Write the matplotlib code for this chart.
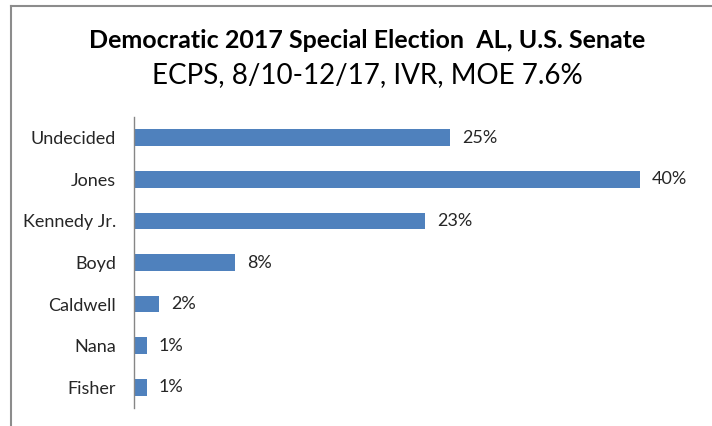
import matplotlib.pyplot as plt
from matplotlib.lines import Line2D

candidates = ["Undecided", "Jones", "Kennedy Jr.", "Boyd", "Caldwell", "Nana", "Fisher"]
support = [25, 40, 23, 8, 2, 1, 1]
value_labels = ["25%", "40%", "23%", "8%", "2%", "1%", "1%"]

plt.rcParams['font.family'] = ['Lato', 'DejaVu Sans']

W, H = 712, 426
fig = plt.figure(figsize=(W / 100, H / 100), dpi=100)

# plot area in pixels: left 134, right ~703, top 117, bottom 408
ax = fig.add_axes([134 / W, 1 - 408 / H, (703 - 134) / W, (408 - 117) / H])

ypos = list(range(len(candidates)))
ax.barh(ypos, support, height=0.4, color='#4F81BD', edgecolor='#4F81BD', linewidth=0)
for y, v, lab in zip(ypos, support, value_labels):
    ax.annotate(lab, (v, y), xytext=(12, 0), textcoords='offset pixels',
                va='center', ha='left', fontsize=13, color='#262626')

ax.set_xlim(0, 45)
ax.set_ylim(len(candidates) - 0.5, -0.5)
ax.set_yticks(ypos)
ax.set_yticklabels(candidates, fontsize=13, color='#262626')
ax.tick_params(axis='y', length=0, pad=13)
ax.set_xticks([])
for s in ['top', 'right', 'bottom']:
    ax.spines[s].set_visible(False)
ax.spines['left'].set_color('#868686')
ax.spines['left'].set_linewidth(1)

fig.text(367 / W, 1 - 40 / H, "Democratic 2017 Special Election  AL, U.S. Senate",
         ha='center', va='center', fontsize=18, fontweight='bold', color='black')
fig.text(367 / W, 1 - 75 / H, "ECPS, 8/10-12/17, IVR, MOE 7.6%",
         ha='center', va='center', fontsize=20, color='black')

# chart frame (top and left edges visible)
fig.add_artist(Line2D([11 / W, 1.0], [1 - 6 / H, 1 - 6 / H], color='#8c8c8c', linewidth=1.5))
fig.add_artist(Line2D([11 / W, 11 / W], [1 - 6 / H, 0], color='#8c8c8c', linewidth=1.5))

fig.savefig('out.png', dpi=100)
